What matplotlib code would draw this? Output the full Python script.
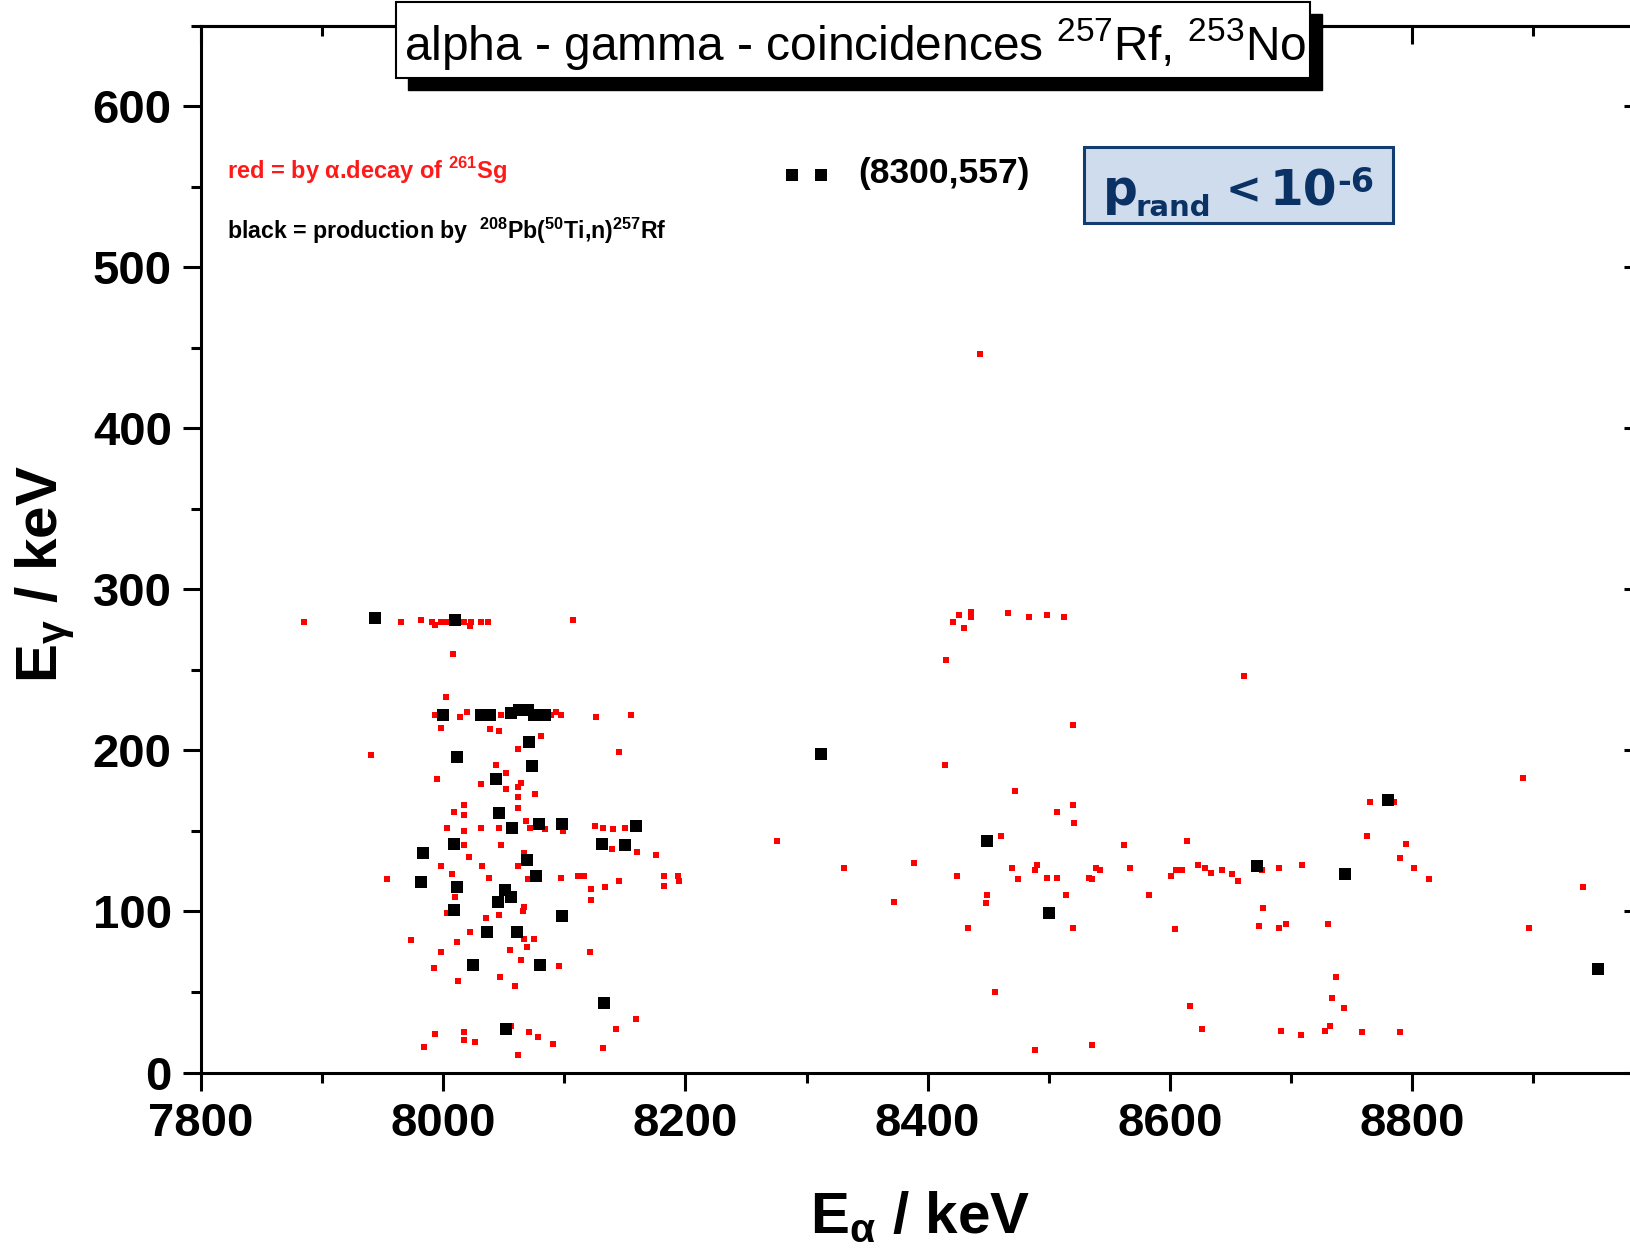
import matplotlib
matplotlib.use("Agg")
import matplotlib.pyplot as plt
from matplotlib.patches import Rectangle
from matplotlib.ticker import MultipleLocator

# ---------------- data (E_alpha keV, E_gamma keV) ----------------
red_ealpha = [
    7885, 7965, 7982, 7991, 7998, 8003, 8012, 8017, 8023, 8031, 8037, 7993, 8022, 8107, 8008,
    8002, 7993, 8014, 8020, 8048, 8078, 8089, 8093, 8097, 8126, 8155,
    7998, 8039, 8046, 8081, 8062, 7940, 8145, 8044, 8052, 7995, 8031, 8064, 8062, 8052, 8076, 8062,
    8017, 8009, 8017, 8062, 8068, 8099, 8003, 8031, 8046, 8017, 8072, 8084, 8125, 8132, 8140, 8150,
    8017, 8048, 8139, 8160, 8176, 8021, 8067, 7998, 8032, 8062, 8007, 7954, 8038, 8070, 8097, 8111,
    8116, 8122, 8134, 8145, 8182, 8182, 8194, 8195,
    8010, 8122, 8003, 8067, 8066, 8046, 8035, 8022, 8067, 8075, 7973, 8011, 8069, 8055, 7998, 8121,
    8064, 7992, 8096, 8047, 8012, 8059, 8159, 8143, 8056, 7993, 8017, 8017, 8026, 8071, 8078, 8091,
    7984, 8132, 8062,
    8276, 8443,
    8421, 8426, 8430, 8436, 8436, 8466, 8484, 8499, 8513, 8415, 8661, 8520, 8414, 8892, 8472, 8520,
    8507, 8765, 8785, 8521, 8763, 8461, 8614, 8562, 8795, 8790, 8389, 8331, 8470, 8490, 8489, 8539,
    8542, 8567, 8605, 8610, 8623, 8629, 8634, 8643, 8651, 8656, 8676, 8690, 8709, 8802, 8814, 8424,
    8475, 8499, 8507, 8533, 8536, 8601, 8941, 8372, 8449, 8448, 8514, 8583, 8677, 8433, 8520, 8604,
    8674, 8690, 8696, 8731, 8897, 8737, 8456, 8734, 8744, 8617, 8627, 8692, 8708, 8728, 8732, 8759,
    8790, 8489, 8536,
]
red_egamma = [
    280, 280, 281, 280, 280, 280, 279, 280, 280, 280, 280, 278, 277, 281, 260,
    233, 222, 221, 224, 222, 220, 222, 224, 222, 221, 222,
    214, 213, 212, 209, 201, 197, 199, 191, 186, 182, 179, 180, 177, 176, 173, 171,
    166, 162, 160, 164, 156, 150, 152, 152, 152, 150, 152, 151, 153, 152, 151, 152,
    141, 141, 139, 137, 135, 134, 136, 128, 128, 128, 123, 120, 121, 120, 121, 122,
    122, 114, 115, 119, 122, 116, 122, 119,
    109, 107, 99, 103, 100, 98, 96, 87, 83, 83, 82, 81, 78, 76, 75, 75,
    70, 65, 66, 59, 57, 54, 33, 27, 29, 24, 25, 20, 19, 25, 22, 18,
    16, 15, 11,
    144, 446,
    280, 284, 276, 286, 283, 285, 283, 284, 283, 256, 246, 216, 191, 183, 175, 166,
    162, 168, 168, 155, 147, 147, 144, 141, 142, 133, 130, 127, 127, 129, 126, 127,
    126, 127, 126, 126, 129, 127, 124, 126, 123, 119, 126, 127, 129, 127, 120, 122,
    120, 121, 121, 121, 120, 122, 115, 106, 110, 105, 110, 110, 102, 90, 90, 89,
    91, 90, 92, 92, 90, 59, 50, 46, 40, 41, 27, 26, 23, 26, 29, 25,
    25, 14, 17,
]
black_ealpha = [
    7944, 8010, 8000, 8031, 8039, 8056, 8063, 8070, 8075, 8084, 8071, 8011, 8073, 8044, 8046, 8079,
    8098, 8057, 8159, 8009, 8131, 8150, 7983, 8069, 7982, 8077, 8011, 8051, 8056, 8045, 8009, 8098,
    8036, 8061, 8025, 8080, 8133, 8052,
    8312, 8449, 8780, 8672, 8745, 8500, 8954, 8288, 8312,
]
black_egamma = [
    282, 281, 222, 222, 222, 223, 225, 225, 222, 222, 205, 196, 190, 182, 161, 154,
    154, 152, 153, 142, 142, 141, 136, 132, 118, 122, 115, 113, 109, 106, 101, 97,
    87, 87, 67, 67, 43, 27,
    198, 144, 169, 128, 123, 99, 64, 557, 557,
]

x_ticks = [7800, 8000, 8200, 8400, 8600, 8800]
y_ticks = [0, 100, 200, 300, 400, 500, 600]

title_text = r"alpha - gamma - coincidences $^\mathregular{257}$Rf, $^\mathregular{253}$No"
red_note = r"red = by α.decay of $^\mathregular{261}$Sg"
black_note = r"black = production by  $^\mathregular{208}$Pb($^\mathregular{50}$Ti,n)$^\mathregular{257}$Rf"
point_note = "(8300,557)"
prand_parts = ["p", "rand", "<", "10", "-6"]
xlabel = r"E$_\mathregular{α}$ / keV"
ylabel = r"E$_\mathregular{γ}$ / keV"

# ---------------- figure ----------------
W, H = 1630, 1256
fig = plt.figure(figsize=(W / 100, H / 100), dpi=100)
plt.rcParams['font.family'] = ['Liberation Sans', 'DejaVu Sans']


def fx(px):
    return px / W


def fy(py):
    return 1 - py / H


ax_left, ax_bottom_px = 201, 1072.5
xmin, xmax, ymin, ymax = 7800, 8990, 0, 650
pxk_x, pxk_y = 1.211, 1.6107
ax_w = (xmax - xmin) * pxk_x
ax_h = (ymax - ymin) * pxk_y
ax = fig.add_axes([fx(ax_left), fy(ax_bottom_px), ax_w / W, ax_h / H])
ax.set_xlim(xmin, xmax)
ax.set_ylim(ymin, ymax)

ax.scatter(red_ealpha, red_egamma, marker='s', s=4.9 ** 2, color='#ff0000', linewidths=0, zorder=3)
ax.scatter(black_ealpha, black_egamma, marker='s', s=8.2 ** 2, color='black', linewidths=0, zorder=4)

for sp in ax.spines.values():
    sp.set_linewidth(2.2)

ax.set_xticks(x_ticks)
ax.set_yticks(y_ticks)
ax.xaxis.set_minor_locator(MultipleLocator(100))
ax.yaxis.set_minor_locator(MultipleLocator(50))
ax.tick_params(which='major', direction='out', length=13, width=2.2, labelsize=34, pad=8)
ax.tick_params(which='minor', direction='out', length=7, width=2.2)
for lab in ax.get_xticklabels() + ax.get_yticklabels():
    lab.set_fontweight('bold')

secx = ax.secondary_xaxis('top')
secx.set_xticks(x_ticks)
secx.xaxis.set_minor_locator(MultipleLocator(100))
secx.tick_params(which='major', direction='in', length=13, width=2.2, labeltop=False)
secx.tick_params(which='minor', direction='in', length=7, width=2.2)
secx.spines['top'].set_linewidth(2.2)

secy = ax.secondary_yaxis('right')
secy.set_yticks(y_ticks)
secy.yaxis.set_minor_locator(MultipleLocator(50))
secy.tick_params(which='major', direction='in', length=13, width=2.2, labelright=False)
secy.tick_params(which='minor', direction='in', length=7, width=2.2)
secy.spines['right'].set_linewidth(2.2)

# title box with shadow
bx0, bx1, by0, by1 = 396, 1310, 2, 78
shadow = Rectangle((fx(bx0 + 12), fy(by1 + 12)), (bx1 - bx0) / W, (by1 - by0) / H,
                   transform=fig.transFigure, facecolor='black', edgecolor='black', zorder=5)
box = Rectangle((fx(bx0), fy(by1)), (bx1 - bx0) / W, (by1 - by0) / H,
                transform=fig.transFigure, facecolor='white', edgecolor='black', linewidth=1.5, zorder=6)
fig.patches.extend([shadow, box])
fig.text(fx(855), fy(60), title_text, fontsize=34.5, ha='center', va='baseline', zorder=7)

# notes
fig.text(fx(227), fy(179), red_note, fontsize=17, fontweight='bold',
         color='#ff1a1a', ha='left', va='baseline')
fig.text(fx(227), fy(239), black_note, fontsize=16.7, fontweight='bold',
         color='black', ha='left', va='baseline')
fig.text(fx(858), fy(174), point_note, fontsize=25.5, fontweight='bold',
         color='black', ha='left', va='center')

# p_rand box
px0, px1, py0, py1 = 1084, 1393, 147, 223
pbox = Rectangle((fx(px0), fy(py1)), (px1 - px0) / W, (py1 - py0) / H, transform=fig.transFigure,
                 facecolor='#cfdced', edgecolor='#123d70', linewidth=2.2, zorder=6)
fig.patches.append(pbox)
navy = '#0a3264'
pkw = dict(fontweight='bold', family='DejaVu Sans', color=navy, ha='left', va='baseline', zorder=7)
fig.text(fx(1103), fy(205), prand_parts[0], fontsize=35, **pkw)
fig.text(fx(1136), fy(216), prand_parts[1], fontsize=21, **pkw)
fig.text(fx(1226), fy(203), prand_parts[2], fontsize=31, **pkw)
fig.text(fx(1270), fy(205), prand_parts[3], fontsize=35, **pkw)
fig.text(fx(1337), fy(192), prand_parts[4], fontsize=24, **pkw)

# axis labels
fig.text(fx(920), fy(1232), xlabel, fontsize=42, fontweight='bold', ha='center', va='baseline')
fig.text(fx(45), fy(574), ylabel, fontsize=42, fontweight='bold', ha='center', va='center', rotation=90)

fig.savefig('out.png', dpi=100)
